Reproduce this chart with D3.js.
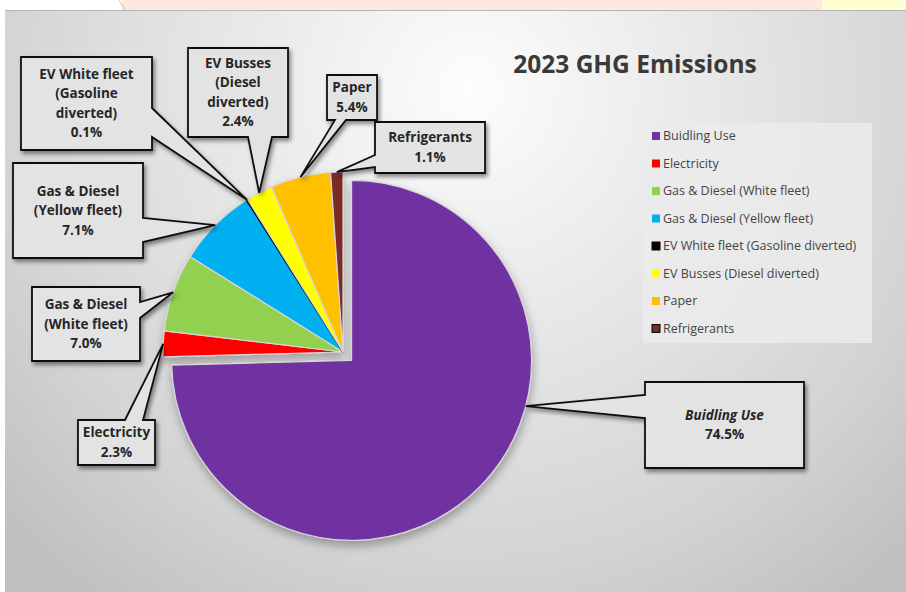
<!DOCTYPE html>
<html>
<head>
<meta charset="utf-8">
<script src="https://cdn.jsdelivr.net/npm/d3@7"></script>
<style>
  html, body { margin: 0; padding: 0; background: #fff; }
  svg { display: block; }
</style>
</head>
<body>
<div id="chart"></div>
<script>
(function () {
    'use strict';

    // data
    var categories = ['Buidling Use', 'Electricity', 'Gas & Diesel (White fleet)', 'Gas & Diesel (Yellow fleet)',
        'EV White fleet (Gasoline diverted)', 'EV Busses (Diesel diverted)', 'Paper', 'Refrigerants'];
    var values = [74.5, 2.3, 7.0, 7.1, 0.1, 2.4, 5.4, 1.1];
    var colors = ['#7030a0', '#ff0000', '#92d050', '#00b0f0', '#000000', '#ffff00', '#ffc000', '#7b2c27'];
    var labelLines = [
        ['Buidling Use'],
        ['Electricity'],
        ['Gas & Diesel', '(White fleet)'],
        ['Gas & Diesel', '(Yellow fleet)'],
        ['EV White fleet', '(Gasoline', 'diverted)'],
        ['EV Busses', '(Diesel', 'diverted)'],
        ['Paper'],
        ['Refrigerants']
    ];

    // callout boxes: x, y, w, h, side the pointer leaves from, base of pointer, where on the slice it touches
    var callouts = [
        {x: 645, y: 382, w: 159, h: 86, side: 'left', b0: 395, b1: 418, at: 0.39},
        {x: 78, y: 420, w: 77, h: 45, side: 'top', b0: 125, b1: 143},
        {x: 32, y: 287, w: 108, h: 74, side: 'right', b0: 302, b1: 318},
        {x: 13, y: 163, w: 130, h: 95, side: 'right', b0: 218, b1: 242},
        {x: 21, y: 57, w: 131, h: 93, side: 'right', b0: 108, b1: 137},
        {x: 188, y: 48, w: 100, h: 89, side: 'bottom', b0: 248, b1: 272},
        {x: 327, y: 75, w: 50, h: 45, side: 'bottom', b0: 335, b1: 346},
        {x: 375, y: 122, w: 110, h: 51, side: 'left', b0: 155, b1: 167}
    ];

    var data = categories.map(function (c, i) {
        return {name: c, value: values[i], color: colors[i], lines: labelLines[i], box: callouts[i]};
    });

    var width = 906, height = 592;
    var cx = 343, cy = 352, radius = 180, explode = 12;
    var font = '"Open Sans", sans-serif';

    var svg = d3.select('#chart').append('svg')
        .attr('width', width)
        .attr('height', height);

    var defs = svg.append('defs');

    var bg = defs.append('radialGradient')
        .attr('id', 'bg')
        .attr('gradientUnits', 'userSpaceOnUse')
        .attr('cx', 470).attr('cy', 90).attr('r', 640);
    bg.append('stop').attr('offset', '0').attr('stop-color', '#fdfdfd');
    bg.append('stop').attr('offset', '0.3').attr('stop-color', '#ececec');
    bg.append('stop').attr('offset', '0.75').attr('stop-color', '#d3d3d3');
    bg.append('stop').attr('offset', '1').attr('stop-color', '#bfbfbf');

    var sh = defs.append('filter').attr('id', 'pieShadow')
        .attr('x', '-20%').attr('y', '-20%').attr('width', '140%').attr('height', '140%');
    sh.append('feDropShadow').attr('dx', 1).attr('dy', 5).attr('stdDeviation', 5)
        .attr('flood-color', '#000').attr('flood-opacity', 0.3);

    var bs = defs.append('filter').attr('id', 'boxShadow')
        .attr('x', '-20%').attr('y', '-20%').attr('width', '140%').attr('height', '140%');
    bs.append('feDropShadow').attr('dx', 2).attr('dy', 3).attr('stdDeviation', 2)
        .attr('flood-color', '#000').attr('flood-opacity', 0.45);

    // strip of the page above the chart
    svg.append('rect').attr('x', 122).attr('y', 0).attr('width', 700).attr('height', 10).attr('fill', '#fde9de');
    svg.append('rect').attr('x', 822).attr('y', 0).attr('width', 84).attr('height', 10).attr('fill', '#ffffd2');
    svg.append('line').attr('x1', 119).attr('y1', 0).attr('x2', 125).attr('y2', 10)
        .attr('stroke', '#bbb').attr('stroke-width', 0.8);

    // chart area
    svg.append('rect')
        .attr('x', 5).attr('y', 10)
        .attr('width', width - 5).attr('height', height - 10)
        .attr('fill', 'url(#bg)');
    svg.append('line').attr('x1', 5).attr('y1', 10.5).attr('x2', width).attr('y2', 10.5)
        .attr('stroke', '#b5b5b5').attr('stroke-width', 1);

    // title
    svg.append('text')
        .attr('x', 635).attr('y', 73)
        .attr('text-anchor', 'middle')
        .style('font-family', font)
        .style('font-weight', 'bold')
        .style('font-size', '24.5px')
        .attr('fill', '#3a3a3a')
        .text('2023 GHG Emissions');

    // pie
    var pie = d3.pie().sort(null).value(function (d) { return d.value; });
    var arcs = pie(data);
    var arc = d3.arc().innerRadius(0).outerRadius(radius);

    function onArc(a, r) {
        return [r * Math.sin(a), -r * Math.cos(a)];
    }
    function offsetOf(d, i) {
        if (i !== 0) return [0, 0];
        return onArc((d.startAngle + d.endAngle) / 2, explode);
    }

    var g = svg.append('g')
        .attr('transform', 'translate(' + cx + ',' + cy + ')')
        .attr('filter', 'url(#pieShadow)');

    g.selectAll('path.slice')
        .data(arcs)
        .enter().append('path')
        .attr('class', 'slice')
        .attr('transform', function (d, i) {
            var o = offsetOf(d, i);
            return 'translate(' + o[0] + ',' + o[1] + ')';
        })
        .attr('d', arc)
        .attr('fill', function (d) { return d.data.color; })
        .attr('stroke', function (d) { return d.data.color === '#000000' ? '#000' : '#d6d6d6'; })
        .attr('stroke-width', function (d) { return d.data.color === '#000000' ? 1.6 : 1.2; })
        .attr('stroke-linejoin', 'round');

    // callouts
    function calloutPath(b, t) {
        var p = [[b.x, b.y]];
        if (b.side === 'top') p.push([b.b0, b.y], t, [b.b1, b.y]);
        p.push([b.x + b.w, b.y]);
        if (b.side === 'right') p.push([b.x + b.w, b.b0], t, [b.x + b.w, b.b1]);
        p.push([b.x + b.w, b.y + b.h]);
        if (b.side === 'bottom') p.push([b.b1, b.y + b.h], t, [b.b0, b.y + b.h]);
        p.push([b.x, b.y + b.h]);
        if (b.side === 'left') p.push([b.x, b.b1], t, [b.x, b.b0]);
        return d3.line()(p) + 'Z';
    }

    var labels = svg.append('g').attr('class', 'labels');

    arcs.forEach(function (d, i) {
        var b = d.data.box;
        var frac = b.at === undefined ? 0.5 : b.at;
        var a = d.startAngle + (d.endAngle - d.startAngle) * frac;
        var o = offsetOf(d, i);
        var p = onArc(a, radius);
        var tip = [cx + o[0] + p[0], cy + o[1] + p[1]];

        var lg = labels.append('g');
        lg.append('path')
            .attr('d', calloutPath(b, tip))
            .attr('fill', '#e3e3e3')
            .attr('stroke', '#111')
            .attr('stroke-width', 1.8)
            .attr('stroke-linejoin', 'miter')
            .attr('filter', 'url(#boxShadow)');

        var lines = d.data.lines.concat([d3.format('.1f')(d.data.value) + '%']);
        var lh = 19.5;
        var y0 = b.y + b.h / 2 - (lines.length - 1) * lh / 2;
        lg.selectAll('text')
            .data(lines)
            .enter().append('text')
            .attr('x', b.x + b.w / 2)
            .attr('y', function (t, j) { return y0 + j * lh; })
            .attr('dy', '0.35em')
            .attr('text-anchor', 'middle')
            .style('font-family', font)
            .style('font-weight', 'bold')
            .style('font-style', function (t, j) { return (i === 0 && j === 0) ? 'italic' : 'normal'; })
            .style('font-size', '13.5px')
            .attr('fill', '#262626')
            .text(function (t) { return t; });
    });

    // legend
    var legend = svg.append('g').attr('transform', 'translate(643,123)');
    legend.append('rect')
        .attr('width', 229).attr('height', 220)
        .attr('fill', '#ebebeb').attr('fill-opacity', 0.85);

    var row = legend.selectAll('g.item')
        .data(data)
        .enter().append('g')
        .attr('class', 'item')
        .attr('transform', function (d, i) { return 'translate(9,' + (13 + i * 27.5) + ')'; });

    row.append('rect')
        .attr('x', 0).attr('y', -4)
        .attr('width', 8).attr('height', 8)
        .attr('fill', function (d) { return d.color; })
        .attr('stroke', function (d) { return (d.color === '#000000' || d.color === '#7b2c27') ? '#000' : 'none'; })
        .attr('stroke-width', 1);

    row.append('text')
        .attr('x', 11)
        .attr('dy', '0.35em')
        .style('font-family', font)
        .style('font-size', '12.5px')
        .attr('fill', '#444')
        .text(function (d) { return d.name; });
})();
</script>
</body>
</html>
